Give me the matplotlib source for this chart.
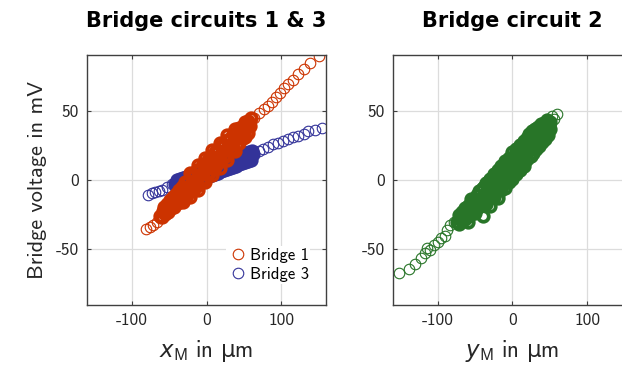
import matplotlib
matplotlib.use("Agg")
import matplotlib.pyplot as plt

plt.rcParams['font.family'] = ['cmss10', 'DejaVu Sans']
plt.rcParams['mathtext.fontset'] = 'custom'
plt.rcParams['mathtext.rm'] = 'cmss10'
plt.rcParams['mathtext.it'] = 'DejaVu Sans:italic'
plt.rcParams['mathtext.sf'] = 'DejaVu Sans'
plt.rcParams['mathtext.fallback'] = 'stixsans'
plt.rcParams['axes.unicode_minus'] = False

# Bridge 1 (x_M in um, voltage in mV): sparse outer points, then the dense core
b1_tail_x = [150, 138, 130, 122, 116, 109, 104, 99, 93, 88, 82, 77, 70, 64,
             -81, -76, -72, -66, -62]
b1_tail_y = [89.5, 84, 80, 76, 72, 69, 66, 63, 60, 56, 53, 51, 48, 45,
             -35.6, -34, -32.5, -30, -27.5]
b1_core_x = [-59, -55, -52, -47, -44, -39, -36, -31, -28, -23, -20, -15, -12, -7, -4,
             1, 4, 9, 12, 17, 20, 25, 28, 33, 36, 41, 44, 49, 52, 56,
             -62, -58, -54, -50, -46, -42, -38, -34, -30, -26, -22, -18, -14, -10, -6, -2,
             2, 6, 10, 14, 18, 22, 26, 30, 34, 38, 42, 46, 50, 54, 58,
             -57, -53, -49, -45, -41, -37, -33, -29, -25, -21, -17, -13, -9, -5, -1,
             3, 7, 11, 15, 19, 23, 27, 31, 35, 39, 43, 47, 51, 55, 59,
             -22, -22, -12, -12, -2, -2, 8, 8, 18, 18, 28, 28, 38, 38,
             -32, -17, -7, 3, 13, 23, 33, 45]
b1_core_y = [-27, -24.2, -23.3, -20, -19.5, -16.8, -15.6, -12.5, -12.5, -8.5, -8, -4, -3.8, 0.3, 0.5,
             4.5, 5, 9, 9.2, 13.3, 13.6, 17.5, 18, 22, 22.2, 26.2, 26.6, 30.5, 31, 34,
             -25.8, -22.4, -21.5, -18, -17.2, -13.8, -12.9, -9.4, -8.6, -5, -4.2, -0.8, 0.1, 3.6, 4.4, 7.9,
             8.8, 12.2, 13.1, 16.5, 17.4, 20.9, 21.7, 25.2, 26, 29.5, 30.3, 33.8, 34.6, 38.2, 39,
             -19.5, -17.3, -14.7, -12.5, -9.8, -7.2, -5.2, -1.7, -0.9, 2.7, 3.4, 7, 7.7, 11.3, 12.1,
             15.6, 16.4, 19.9, 20.7, 24.3, 25, 28.6, 29.3, 32.9, 33.7, 37.2, 38, 41.5, 42.3, 44.5,
             5.4, -12.6, 10.8, -7.2, 16.2, -1.8, 21.6, 3.6, 27, 9, 32.4, 14.4, 36.8, 20.8,
             -16, -6.5, -0.5, 5.5, 11, 16.5, 22, 30]

# Bridge 3
b3_tail_x = [-78, -73, -69, -64, -60, -53, -46,
             154, 145, 136, 130, 123, 116, 109, 103, 96, 89, 82, 76, 70]
b3_tail_y = [-11, -9.5, -9, -8, -7, -5, -3,
             37.5, 36, 35, 33, 32, 31, 29.5, 28, 27, 26, 24, 22.5, 21]
b3_core_x = [-42, -38, -34, -30, -26, -22, -18, -14, -10, -6, -2, 2, 6, 10, 14,
             18, 22, 26, 30, 34, 38, 42, 46, 50, 54, 58, 62,
             -40, -36, -32, -28, -24, -20, -16, -12, -8, -4, 0, 4, 8, 12, 16,
             20, 24, 28, 32, 36, 40, 44, 48, 52, 56, 60,
             -39, -35, -31, -27, -23, -19, -15, -11, -7, -3, 1, 5, 9, 13, 17,
             21, 25, 29, 33, 37, 41, 45, 49, 53, 57, 61]
b3_core_y = [-3.2, -3.6, -1.5, -1.9, 0.1, -0.2, 1.8, 1.5, 3.5, 3.1, 5.2, 4.8, 6.9, 6.5, 8.5,
             8.2, 10.2, 9.9, 11.9, 11.5, 13.6, 13.2, 15.3, 14.9, 16.9, 16.6, 18.6,
             -6.4, -5.6, -4.7, -3.9, -3, -2.2, -1.4, -0.5, 0.3, 1.2, 2, 2.8, 3.7, 4.5, 5.4,
             6.2, 7, 7.9, 8.7, 9.6, 10.4, 11.2, 12.1, 12.9, 13.8, 14.6,
             -0.2, 0.6, 1.5, 2.3, 3.2, 4, 4.8, 5.7, 6.5, 7.4, 8.2, 9, 9.9, 10.7, 11.6,
             12.4, 13.2, 14.1, 14.9, 15.8, 16.6, 17.4, 18.3, 19.1, 20, 20.8]

# Bridge 2 (y_M in um)
b2_tail_x = [-152, -139, -130, -123, -117, -114, -110, -105, -100, -96, -91, -87, -83, -78,
             -54, -11, 53, 56, 60]
b2_tail_y = [-67, -64, -60.6, -56, -52.7, -49, -50.5, -47, -45, -42, -40, -36, -32.5, -30,
             -24, -3.6, 46, 44, 47.6]
b2_core_x = [-74, -70, -66, -62, -58, -54, -50, -46, -42, -38, -34, -30, -26, -22, -18, -14,
             -10, -6, -2, 2, 6, 10, 14, 18, 22, 26, 30, 34, 38, 42, 46, 50,
             -72, -68, -64, -60, -56, -52, -48, -44, -40, -36, -32, -28, -24, -20, -16, -12,
             -8, -4, 0, 4, 8, 12, 16, 20, 24, 28, 32, 36, 40, 44, 48,
             -71, -67, -63, -59, -55, -51, -47, -43, -39, -35, -31, -27, -23, -19, -15, -11,
             -7, -3, 1, 5, 9, 13, 17, 21, 25, 29, 33, 37, 41, 45, 49,
             22, 26, 30, 34, 38, 42, 46, 50,
             -40, -30, -20, -10, 0, 10, -40, -30, -20, -10, 0, 10, 20,
             -60, -50, -35, -25, -15, -5, 5, 15, 25,
             -55, -45, -35, -25, -15, -5, 5, 15, 30]
b2_core_y = [-30, -27.8, -25.6, -23.5, -21.3, -19.2, -17, -14.8, -12.7, -10.5, -8.4, -6.2, -4, -1.9, 0.3, 2.4,
             4.6, 6.8, 8.9, 11.1, 13.2, 15.4, 17.6, 19.7, 21.9, 24, 26.2, 28.4, 30.5, 32.7, 34.8, 37,
             -31.9, -29.7, -28.1, -25.9, -24.2, -22.1, -20.4, -18.8, -17.1, -15.4, -13.3, -11.1, -9, -6.8, -4.6, -2.5,
             -0.3, 1.8, 4, 6.2, 8.3, 10.5, 12.6, 14.8, 17, 19.6, 22.3, 24.4, 27.1, 29.8, 32.4,
             -25.3, -23.2, -20.5, -18.4, -15.7, -13.5, -10.9, -8.2, -5.6, -2.9, -0.7, 1.4, 3.6, 5.7, 7.9, 10.1,
             12.2, 14.4, 16.5, 18.7, 20.9, 23, 25.2, 27.3, 29, 30.7, 32.8, 34.5, 36.1, 37.8, 39.5,
             33, 35, 37, 38, 40, 41, 43, 42,
             -26, -19, -13, -6, 1, 7, -6, 1, 7, 14, 20, 25, 30,
             -30, -24, -17, -12.5, -7, -1.5, 4, 10, 17,
             -14, -8, -2, 4, 10, 16, 22, 28, 34]

red = '#cc3300'
blue = '#333399'
green = '#287528'
spine_col = '#404040'
text_col = '#262626'

fig = plt.figure(figsize=(6.22, 3.65), dpi=100)
ax1 = fig.add_axes([0.1399, 0.1644, 0.3842, 0.6849])
ax2 = fig.add_axes([0.6318, 0.1644, 0.3842, 0.6849])

ms = 7.6
lw = 0.8
core_lw = 2.7
ax1.plot(b3_core_x, b3_core_y, 'o', ms=ms, mfc='none', mec=blue, mew=core_lw)
h3, = ax1.plot(b3_tail_x, b3_tail_y, 'o', ms=ms, mfc='none', mec=blue, mew=lw)
ax1.plot(b1_core_x, b1_core_y, 'o', ms=ms, mfc='none', mec=red, mew=core_lw)
h1, = ax1.plot(b1_tail_x, b1_tail_y, 'o', ms=ms, mfc='none', mec=red, mew=lw)
ax2.plot(b2_core_x, b2_core_y, 'o', ms=ms, mfc='none', mec=green, mew=core_lw)
ax2.plot(b2_tail_x, b2_tail_y, 'o', ms=ms, mfc='none', mec=green, mew=lw)

for ax in (ax1, ax2):
    ax.set_xlim(-160, 160)
    ax.set_ylim(-90, 90)
    ax.set_xticks([-100, 0, 100])
    ax.set_yticks([-50, 0, 50])
    ax.grid(True, color='#dcdcdc', lw=0.9)
    ax.set_axisbelow(True)
    ax.tick_params(direction='in', length=3, width=0.8, color=spine_col,
                   labelcolor=text_col, labelsize=12.5, top=True, right=True, pad=6)
    for s in ax.spines.values():
        s.set_color(spine_col)
        s.set_linewidth(1.0)

ax1.set_title('Bridge circuits 1 & 3', family='DejaVu Sans', weight='bold',
              fontsize=15, pad=20)
ax2.set_title('Bridge circuit 2', family='DejaVu Sans', weight='bold',
              fontsize=15, pad=20)
ax1.set_xlabel(r'$x_\mathrm{M}$ in $\mathsf{\mu}$m', fontsize=16.5, color=text_col, labelpad=7)
ax2.set_xlabel(r'$y_\mathrm{M}$ in $\mathsf{\mu}$m', fontsize=16.5, color=text_col, labelpad=7)
ax1.set_ylabel('Bridge voltage in mV', fontsize=16, color=text_col, labelpad=6)

leg = ax1.legend([h1, h3], ['Bridge 1', 'Bridge 3'], loc='lower right',
                 bbox_to_anchor=(0.935, 0.085),
                 fontsize=12, frameon=True, fancybox=False, edgecolor='none',
                 framealpha=1, handletextpad=0.1, labelspacing=0.25,
                 borderpad=0.1, borderaxespad=0.0, handlelength=1.2)

fig.savefig('out.png', dpi=100)
